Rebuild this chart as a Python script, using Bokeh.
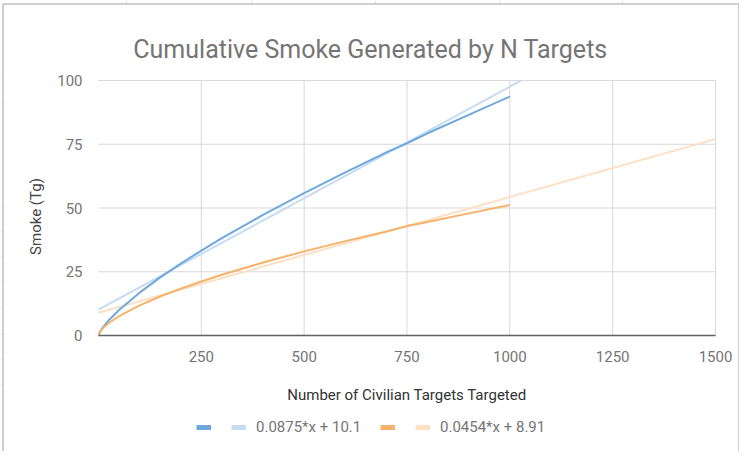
import math
from bokeh.plotting import figure
from bokeh.models import FixedTicker, Legend, LegendItem, Range1d, Label
from bokeh.core.properties import value
from bokeh.embed import file_html
from bokeh.resources import INLINE

# ---- data ----
x_vals = [0, 5, 10, 25, 50, 100, 150, 200, 250, 300, 400, 500, 600, 700, 750, 800, 900, 1000]
blue_y = [0, 1.8, 3.0, 6.0, 10.0, 16.8, 22.8, 28.2, 33.3, 38.2, 47.3, 55.8, 64.0, 71.8, 75.4, 79.3, 86.5, 93.7]
orange_y = [0, 1.8, 2.7, 4.9, 7.6, 11.8, 15.3, 18.4, 21.2, 23.8, 28.6, 33.0, 37.0, 40.8, 42.9, 44.5, 47.9, 51.2]

blue_slope, blue_intercept = 0.0875, 10.1
orange_slope, orange_intercept = 0.0454, 8.91

x_min, x_max = 0, 1500
y_min, y_max = 0, 100
x_ticks = [250, 500, 750, 1000, 1250, 1500]
y_ticks = [0, 25, 50, 75, 100]

title_text = "Cumulative Smoke Generated by N Targets"
x_title = "Number of Civilian Targets Targeted"
y_title = "Smoke (Tg)"
blue_label = "0.0875*x + 10.1"
orange_label = "0.0454*x + 8.91"

# ---- style / layout ----
BLUE = "#6fa8dc"
BLUE_T = "#c5dcf1"
ORANGE = "#f6b26b"
ORANGE_T = "#fbe0c4"
FONT = "Roboto"
W, H = 739, 451
PL, PR, PT, PB = 98, 715, 80, 335     # plot area in pixels

sx = (PR - PL) / (x_max - x_min)
sy = (PB - PT) / (y_max - y_min)
def dx(px):
    return x_min + (px - PL) / sx
def dy(py):
    return y_min + (PB - py) / sy

p = figure(width=W, height=H, x_range=Range1d(dx(0), dx(W)), y_range=Range1d(dy(H), dy(0)),
           output_backend="svg", toolbar_location=None, min_border=0)
p.title.visible = False
p.outline_line_color = None
p.border_fill_color = "white"
p.background_fill_color = "white"
p.xgrid.visible = False
p.ygrid.visible = False

# spreadsheet cell lines visible around the chart box
cell_rows = [25 + 25.7 * i for i in range(17)]
cell_cols = [126, 251, 375, 499, 622]
p.segment(x0=[dx(0)] * len(cell_rows), y0=[dy(r) for r in cell_rows],
          x1=[dx(2)] * len(cell_rows), y1=[dy(r) for r in cell_rows],
          line_color="#e2e2e2", line_width=1)
p.segment(x0=[dx(c) for c in cell_cols], y0=[dy(0)] * len(cell_cols),
          x1=[dx(c) for c in cell_cols], y1=[dy(3)] * len(cell_cols),
          line_color="#e2e2e2", line_width=1)

# grid lines (within the plot area only)
p.segment(x0=x_ticks, y0=[y_min] * len(x_ticks), x1=x_ticks, y1=[y_max] * len(x_ticks),
          line_color="#d9d9d9", line_width=1)
p.segment(x0=[x_min] * len(y_ticks), y0=y_ticks, x1=[x_max] * len(y_ticks), y1=y_ticks,
          line_color="#d9d9d9", line_width=1)

# axes
xa = p.xaxis[0]
ya = p.yaxis[0]
xa.fixed_location = 0
ya.fixed_location = 0
xa.bounds = (x_min, x_max)
ya.bounds = (y_min, y_max)
xa.ticker = FixedTicker(ticks=x_ticks)
ya.ticker = FixedTicker(ticks=y_ticks)
for ax in (xa, ya):
    ax.major_tick_line_color = None
    ax.minor_tick_line_color = None
    ax.major_label_text_font = FONT
    ax.major_label_text_font_size = "15px"
    ax.major_label_text_color = "#757575"
xa.axis_line_color = "#616161"
xa.axis_line_width = 1.5
ya.axis_line_color = None
xa.major_label_standoff = 9
ya.major_label_standoff = 10

# trendlines (clipped at the top of the plot)
def trend_end(m, b):
    return min(x_max, (y_max - b) / m)
bt_x = [x_min, trend_end(blue_slope, blue_intercept)]
ot_x = [x_min, trend_end(orange_slope, orange_intercept)]
p.line(bt_x, [blue_intercept + blue_slope * x for x in bt_x], line_color=BLUE_T, line_width=2)
p.line(ot_x, [orange_intercept + orange_slope * x for x in ot_x], line_color=ORANGE_T, line_width=2)
# series
p.line(x_vals, blue_y, line_color=BLUE, line_width=2)
p.line(x_vals, orange_y, line_color=ORANGE, line_width=2)

# titles
p.add_layout(Label(x=dx(370), y=dy(49), text=title_text, text_align="center",
                   text_baseline="alphabetic", text_font=FONT, text_font_size="25px",
                   text_color="#757575"))
p.add_layout(Label(x=dx(406.5), y=dy(394), text=x_title, text_align="center",
                   text_baseline="middle", text_font=FONT, text_font_size="15px",
                   text_color="#333333"))
p.add_layout(Label(x=dx(35), y=dy(216), text=y_title, text_align="center",
                   text_baseline="middle", angle=math.pi / 2, text_font=FONT,
                   text_font_size="15px", text_color="#444444"))

# chart border
p.line([dx(2.5), dx(2.5), dx(738.5), dx(738.5)], [dy(H + 5), dy(3.5), dy(3.5), dy(H + 5)],
       line_color="#9e9e9e", line_width=1)

# legend swatches (no visible data of their own)
nan = float("nan")
sw = [p.line([nan], [nan], line_color=c, line_width=5) for c in (BLUE, BLUE_T, ORANGE, ORANGE_T)]

def make_legend(r_a, r_b, label, left):
    return Legend(items=[LegendItem(label=value(""), renderers=[r_a]),
                         LegendItem(label=value(label), renderers=[r_b])],
                  orientation="horizontal", location=(left, 15), glyph_width=15, glyph_height=18,
                  label_standoff=10, spacing=10, label_width=0, label_height=18,
                  label_text_font=FONT, label_text_font_size="15px", label_text_color="#757575",
                  label_text_baseline="middle",
                  border_line_color=None, background_fill_alpha=0, padding=0, margin=0)

p.add_layout(make_legend(sw[0], sw[1], blue_label, 196), "center")
p.add_layout(make_legend(sw[2], sw[3], orange_label, 380), "center")

open("out.html", "w").write(file_html(p, INLINE))
